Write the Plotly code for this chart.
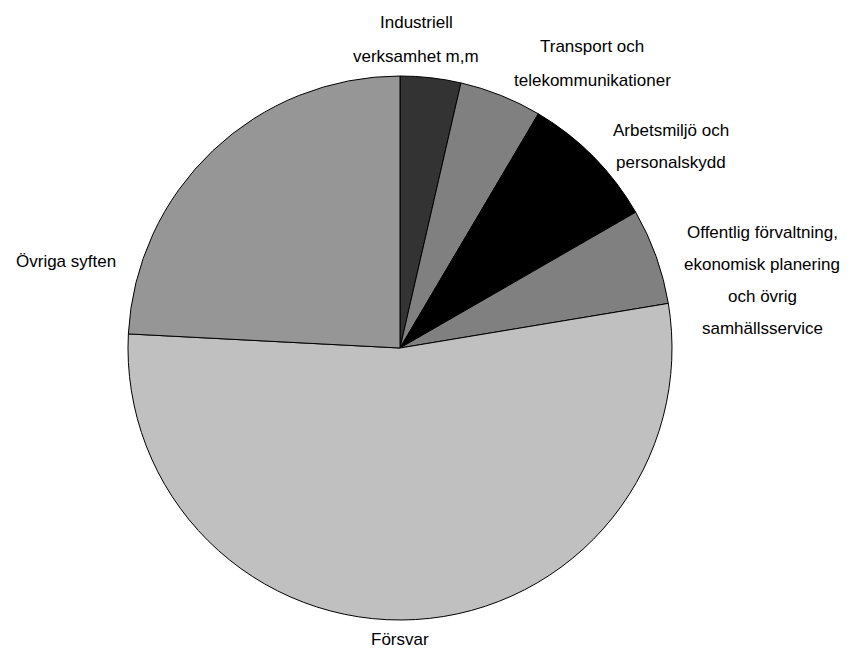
import plotly.graph_objects as go

categories = [
    "Industriell verksamhet m,m",
    "Transport och telekommunikationer",
    "Arbetsmiljö och personalskydd",
    "Offentlig förvaltning, ekonomisk planering och övrig samhällsservice",
    "Försvar",
    "Övriga syften",
]
values = [3.6, 4.9, 8.2, 5.7, 53.5, 24.2]
label_lines = [
    ["Industriell", "verksamhet m,m"],
    ["Transport och", "telekommunikationer"],
    ["Arbetsmiljö och", "personalskydd"],
    ["Offentlig förvaltning,", "ekonomisk planering", "och övrig", "samhällsservice"],
    ["Försvar"],
    ["Övriga syften"],
]

colors = ["#333333", "#808080", "#000000", "#808080", "#C0C0C0", "#969696"]

OFF = 8  # page body margin offset
W, H = 851 - OFF, 650 - OFF
cx, cy, r = 400 - OFF, 348 - OFF, 272

fig = go.Figure(
    go.Pie(
        labels=categories,
        values=values,
        sort=False,
        direction="clockwise",
        rotation=0,
        textinfo="none",
        hoverinfo="label+percent",
        marker=dict(colors=colors, line=dict(color="#000000", width=1)),
        domain=dict(x=[(cx - r) / W, (cx + r) / W], y=[(H - cy - r) / H, (H - cy + r) / H]),
        showlegend=False,
    )
)

# label block placement (centre x, first-line centre y, line spacing) in page pixels
label_pos = [
    (416, 23, 33),
    (592, 47, 33),
    (671, 130, 33),
    (762, 232, 32),
    (400, 639, 33),
    (66, 262, 33),
]

annotations = []
for lines, (lx, ly, sp) in zip(label_lines, label_pos):
    for i, line in enumerate(lines):
        annotations.append(
            dict(
                x=(lx - OFF) / W,
                y=1 - (ly - OFF + i * sp) / H,
                xref="paper",
                yref="paper",
                text=line,
                showarrow=False,
                xanchor="center",
                yanchor="middle",
                borderpad=0,
                font=dict(family="Liberation Sans, Arial, sans-serif", size=17, color="#000000"),
            )
        )

fig.update_layout(
    width=W,
    height=H,
    margin=dict(l=0, r=0, t=0, b=0),
    paper_bgcolor="#FFFFFF",
    plot_bgcolor="#FFFFFF",
    annotations=annotations,
)

fig.write_html("out.html")
